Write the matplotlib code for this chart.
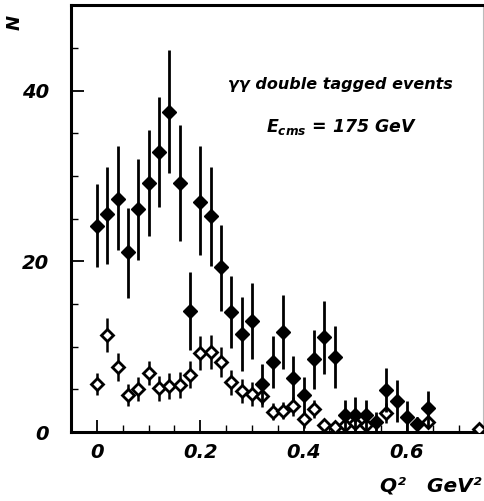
# Q^2 distribution, double tagged gamma-gamma events

import numpy as np
import matplotlib
matplotlib.use("Agg")
import matplotlib.pyplot as plt
from matplotlib.ticker import MultipleLocator

plt.rcParams['mathtext.fontset'] = 'custom'
plt.rcParams['mathtext.it'] = 'DejaVu Sans:italic:bold'
plt.rcParams['mathtext.rm'] = 'DejaVu Sans:italic:bold'

# filled diamonds
q2_full = [0.00, 0.02, 0.04, 0.06, 0.08, 0.10, 0.12, 0.14, 0.16, 0.18,
           0.20, 0.22, 0.24, 0.26, 0.28, 0.30, 0.32, 0.34, 0.36, 0.38,
           0.40, 0.42, 0.44, 0.46, 0.48, 0.50, 0.52, 0.54, 0.56, 0.58,
           0.60, 0.62, 0.64]
n_full = [24.1, 25.5, 27.3, 21.1, 26.1, 29.2, 32.8, 37.5, 29.2, 14.2,
          27.0, 25.3, 19.3, 14.0, 11.5, 13.0, 5.6, 8.2, 11.7, 6.3,
          4.3, 8.6, 11.1, 8.8, 2.0, 2.0, 2.0, 1.2, 4.9, 3.6,
          1.8, 0.9, 2.8]
lo_full = [19.3, 19.7, 21.3, 15.7, 20.2, 23.0, 26.4, 30.3, 22.4, 9.6,
           20.7, 19.5, 14.2, 9.8, 7.1, 8.6, 3.3, 5.1, 7.4, 3.7,
           2.2, 5.0, 6.8, 5.1, 0.0, 0.0, 0.0, 0.0, 2.4, 1.2,
           0.0, 0.0, 0.5]
hi_full = [29.1, 31.1, 33.5, 26.2, 32.0, 35.4, 39.2, 44.8, 36.0, 18.8,
           33.5, 31.1, 24.2, 18.3, 15.8, 17.5, 8.0, 11.3, 16.0, 8.9,
           6.4, 12.0, 15.4, 12.4, 3.8, 4.1, 3.8, 2.4, 7.5, 6.1,
           3.6, 1.8, 4.8]

# open diamonds
q2_open = [0.00, 0.02, 0.04, 0.06, 0.08, 0.10, 0.12, 0.14, 0.16, 0.18,
           0.20, 0.22, 0.24, 0.26, 0.28, 0.30, 0.32, 0.34, 0.36, 0.38,
           0.40, 0.42, 0.44, 0.46, 0.48, 0.50, 0.52, 0.56, 0.64, 0.74]
n_open = [5.6, 11.4, 7.6, 4.3, 5.0, 6.9, 5.1, 5.4, 5.5, 6.7,
          9.3, 9.4, 8.2, 5.8, 4.8, 4.5, 4.2, 2.4, 2.5, 3.0,
          1.5, 2.7, 0.8, 0.6, 0.8, 1.0, 0.8, 2.2, 1.2, 0.4]
err_open = [1.3, 2.0, 1.6, 1.3, 1.4, 1.4, 1.5, 1.5, 1.5, 1.6,
            2.0, 2.0, 1.7, 1.5, 1.4, 1.4, 1.3, 1.0, 1.0, 1.1,
            1.0, 1.1, 0.4, 0.4, 0.5, 0.6, 0.5, 1.2, 0.6, 0.0]

fig = plt.figure(figsize=(4.84, 5.01), dpi=100)
ax = fig.add_axes([0.1467, 0.1377, 0.851, 0.852])

yerr_full = [np.array(n_full) - np.array(lo_full), np.array(hi_full) - np.array(n_full)]
ax.errorbar(q2_open, n_open, yerr=err_open, fmt='D', color='black', mfc='white',
            mec='black', mew=2.0, ms=6.5, elinewidth=1.8, capsize=0, zorder=3)
ax.errorbar(q2_full, n_full, yerr=yerr_full, fmt='D', color='black', mfc='black',
            mec='black', ms=7.5, elinewidth=2.0, capsize=0, zorder=4)

ax.set_xlim(-0.05, 0.747)
ax.set_ylim(0, 50)

ax.set_xticks([0, 0.2, 0.4, 0.6])
ax.set_xticklabels(['0', '0.2', '0.4', '0.6'])
ax.set_yticks([0, 20, 40])
ax.set_yticklabels(['0', '20', '40'])
ax.xaxis.set_minor_locator(MultipleLocator(0.05))
ax.yaxis.set_minor_locator(MultipleLocator(5))
ax.tick_params(which='major', direction='in', length=9, width=1.3, labelsize=14)
ax.tick_params(axis='y', which='major', pad=16)
ax.tick_params(axis='x', which='major', pad=8)
ax.tick_params(which='minor', direction='in', length=5, width=1.0)
for lab in ax.get_xticklabels() + ax.get_yticklabels():
    lab.set_fontstyle('italic')
    lab.set_fontweight('bold')

for side in ['left', 'bottom', 'top']:
    ax.spines[side].set_linewidth(2.2)
ax.spines['right'].set_linewidth(0.8)
ax.spines['right'].set_color('#bbbbbb')

ax.text(0.653, 0.813, 'γγ double tagged events', transform=ax.transAxes,
        fontsize=11.5, fontstyle='italic', fontweight='bold', ha='center', va='center')
ax.text(0.658, 0.714, r'$E_{cms}$ = 175 GeV', transform=ax.transAxes,
        fontsize=12.5, fontstyle='italic', fontweight='bold', ha='center', va='center')

fig.text(0.03, 0.955, 'N', rotation=90, fontsize=13, fontstyle='italic',
         fontweight='bold', ha='center', va='center')
fig.text(0.995, 0.03, 'Q²   GeV²', fontsize=14.5, fontstyle='italic',
         fontweight='bold', ha='right', va='center')

plt.savefig('out.png', dpi=100)
